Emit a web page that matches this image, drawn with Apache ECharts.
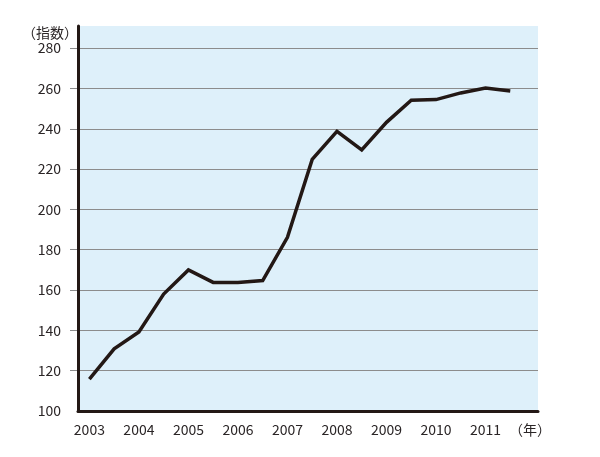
<!DOCTYPE html>
<html>
<head>
<meta charset="utf-8">
<script src="https://cdn.jsdelivr.net/npm/echarts@6/dist/echarts.min.js"></script>
<style>
html,body{margin:0;padding:0;background:#fff;}
#chart{width:600px;height:457px;}
</style>
</head>
<body>
<div id="chart"></div>
<script>
// half-year points, 2003 .. 2011.5
var periods = [2003, 2003.5, 2004, 2004.5, 2005, 2005.5, 2006, 2006.5, 2007, 2007.5, 2008, 2008.5, 2009, 2009.5, 2010, 2010.5, 2011, 2011.5];
var indexValues = [115.8, 130.8, 139.2, 158.0, 170.0, 163.8, 163.8, 164.7, 186.2, 224.8, 238.7, 229.5, 243.2, 254.2, 254.5, 257.8, 260.2, 258.7];
var yearTicks = [2003, 2004, 2005, 2006, 2007, 2008, 2009, 2010, 2011];
var yTicks = [100, 120, 140, 160, 180, 200, 220, 240, 260, 280];
var xUnitLabel = '（年）';
var yUnitLabel = '（指数）';
var xUnitPos = 2011.9;

var font = '"Noto Sans CJK JP", "Noto Sans", sans-serif';
var textColor = '#2a2526';
var gridGray = '#8c8c8c';

var chart = echarts.init(document.getElementById('chart'), null, {renderer: 'canvas'});
chart.setOption({
  animation: false,
  backgroundColor: '#ffffff',
  title: {
    text: yUnitLabel,
    left: 17,
    top: 21,
    textStyle: {fontFamily: font, fontSize: 14, fontWeight: 'normal', color: textColor}
  },
  grid: [
    {left: 78, right: 62, top: 26, bottom: 46, show: true, backgroundColor: '#def0fa', borderWidth: 0},
    // narrow strip left of the axis: gridline stubs
    {left: 70, width: 8, top: 26, bottom: 46, show: false}
  ],
  xAxis: [{
    type: 'value',
    gridIndex: 0,
    min: 2002.77,
    max: 2012.06,
    axisLine: {show: true, lineStyle: {color: '#231815', width: 3}},
    axisTick: {show: false},
    splitLine: {show: false},
    axisLabel: {
      customValues: yearTicks.concat([xUnitPos]),
      margin: 12,
      fontFamily: font,
      fontSize: 14,
      color: textColor,
      formatter: function (v) {
        if (Math.abs(v - xUnitPos) < 0.01) return xUnitLabel;
        return String(Math.round(v));
      }
    }
  }, {
    type: 'value', gridIndex: 1, min: 0, max: 1,
    axisLine: {show: false}, axisTick: {show: false}, axisLabel: {show: false}, splitLine: {show: false}
  }],
  yAxis: [{
    type: 'value',
    gridIndex: 0,
    min: 100,
    max: 291,
    interval: 20,
    axisLine: {show: true, lineStyle: {color: '#231815', width: 3}},
    axisTick: {show: false},
    splitLine: {
      show: true,
      showMinLine: false,
      showMaxLine: false,
      lineStyle: {color: gridGray, width: 1}
    },
    axisLabel: {
      showMaxLabel: false,
      margin: 17,
      fontFamily: font,
      fontSize: 14,
      color: textColor,
      formatter: function (v) { return yTicks.indexOf(v) >= 0 ? String(v) : ''; }
    }
  }, {
    type: 'value',
    gridIndex: 1,
    min: 100,
    max: 291,
    interval: 20,
    axisLine: {show: false},
    axisTick: {show: false},
    axisLabel: {show: false},
    splitLine: {
      show: true,
      showMinLine: false,
      showMaxLine: false,
      lineStyle: {color: gridGray, width: 1}
    }
  }],
  series: [{
    type: 'line',
    xAxisIndex: 0,
    yAxisIndex: 0,
    data: periods.map(function (p, i) { return [p, indexValues[i]]; }),
    showSymbol: false,
    symbol: 'none',
    lineStyle: {color: '#231815', width: 3.5, join: 'miter'},
    z: 5
  }, {
    type: 'line',
    xAxisIndex: 1,
    yAxisIndex: 1,
    data: [],
    silent: true
  }]
});
</script>
</body>
</html>
